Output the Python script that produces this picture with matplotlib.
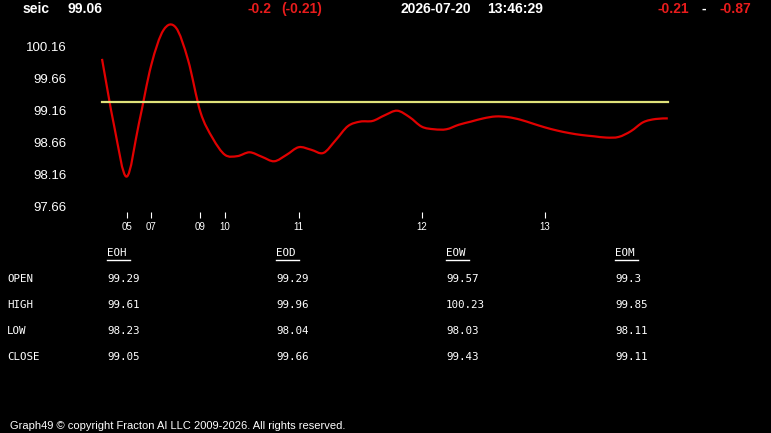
import numpy as np
import matplotlib.pyplot as plt
from matplotlib.path import Path
from matplotlib.patches import PathPatch
from matplotlib.lines import Line2D

# cabecera
symbol = 'seic'
last_price = '99.06'
change_abs = '-0.2'
change_pct = '(-0.21)'
date_str = '2026-07-20'
time_str = '13:46:29'
range_lo = '-0.21'
range_hi = '-0.87'

# serie intradía (un punto por intervalo)
prices = [99.97, 98.91, 98.13, 98.96, 99.87, 100.42, 100.46, 99.95, 99.14, 98.73,
          98.47, 98.45, 98.51, 98.44, 98.37, 98.47, 98.59, 98.55, 98.50, 98.70,
          98.92, 98.99, 99.00, 99.09, 99.16, 99.06, 98.91, 98.87, 98.87, 98.94,
          98.99, 99.04, 99.07, 99.06, 99.02, 98.96, 98.90, 98.85, 98.81, 98.78,
          98.76, 98.74, 98.75, 98.84, 98.98, 99.03, 99.04]
open_ref = 99.29  # línea de apertura

hour_ticks = [2, 4, 8, 10, 16, 26, 36]
hour_labels = ['05', '07', '09', '10', '11', '12', '13']
y_ticks = [97.66, 98.16, 98.66, 99.16, 99.66, 100.16]

# tabla
periods = ['EOH', 'EOD', 'EOW', 'EOM']
row_names = ['OPEN', 'HIGH', 'LOW', 'CLOSE']
eoh = ['99.29', '99.61', '98.23', '99.05']
eod = ['99.29', '99.96', '98.04', '99.66']
eow = ['99.57', '100.23', '98.03', '99.43']
eom = ['99.3', '99.85', '98.11', '99.11']

W, H = 771, 433
RED = '#e81c1c'
fig = plt.figure(figsize=(W / 100, H / 100), dpi=100, facecolor='black')


def px(x, y):
    return x / W, 1 - y / H


# ejes en píxeles
left, right, top, bottom = 90, 690, 15, 212
ax = fig.add_axes([left / W, 1 - bottom / H, (right - left) / W, (bottom - top) / H])
ax.set_facecolor('black')
for s in ax.spines.values():
    s.set_visible(False)

# escala: 64 px por unidad, 12.3 px por punto
ax.set_ylim(100.16 - (bottom - 46.7) / 64, 100.16 + (46.7 - top) / 64)
ax.set_xlim((left - 102) / 12.3, (right - 102) / 12.3)

# curva suavizada (Catmull-Rom -> Bezier)
xs = np.arange(len(prices), dtype=float)
ys = np.array(prices)
pts = np.column_stack([xs, ys])
verts = [pts[0]]
codes = [Path.MOVETO]
n = len(pts)
for i in range(n - 1):
    p0 = pts[max(i - 1, 0)]
    p1 = pts[i]
    p2 = pts[i + 1]
    p3 = pts[min(i + 2, n - 1)]
    verts += [p1 + (p2 - p0) / 6, p2 - (p3 - p1) / 6, p2]
    codes += [Path.CURVE4] * 3
ax.add_patch(PathPatch(Path(verts, codes), facecolor='none', edgecolor='#e00000', lw=1.6))

ax.plot([xs[0], xs[-1]], [open_ref, open_ref], color='#dfe27a', lw=1.6)

ax.set_yticks(y_ticks)
ax.set_yticklabels([f'{v:.2f}' for v in y_ticks])
ax.tick_params(axis='y', length=0, pad=17, labelcolor='white', labelsize=9.5)
ax.set_xticks(hour_ticks)
ax.set_xticklabels(hour_labels)
ax.tick_params(axis='x', length=4.3, width=0.8, color='white', pad=3,
               labelcolor='white', labelsize=7)
for lab in ax.get_yticklabels() + ax.get_xticklabels():
    lab.set_family('Liberation Sans')

# cabecera
hdr = dict(fontsize=10, fontweight='bold', family='Liberation Sans', va='center', ha='left')
fig.text(*px(23, 9), symbol, color='white', **hdr)
fig.text(*px(67, 9), last_price, color='white', **hdr)
fig.text(*px(247, 9), change_abs, color=RED, **hdr)
fig.text(*px(281, 9), change_pct, color=RED, **hdr)
fig.text(*px(400, 9), date_str, color='white', **hdr)
fig.text(*px(487, 9), time_str, color='white', **hdr)
fig.text(*px(657, 9), range_lo, color=RED, **hdr)
fig.text(*px(702, 9), '-', color='white', **hdr)
fig.text(*px(720, 9), range_hi, color=RED, **hdr)

# tabla OHLC
mono = dict(fontsize=7.8, family='DejaVu Sans Mono', color='white', va='center', ha='left')
col_x = [107, 276, 446, 615]
row_y = [279, 305, 331, 357]
columns = [eoh, eod, eow, eom]
for cx, name, vals in zip(col_x, periods, columns):
    fig.text(*px(cx, 253), name, **mono)
    fig.add_artist(Line2D([cx / W, (cx + 23) / W], [1 - 260 / H, 1 - 260 / H],
                          color='white', lw=1, transform=fig.transFigure))
    for ry, v in zip(row_y, vals):
        fig.text(*px(cx, ry), v, **mono)
for ry, name in zip(row_y, row_names):
    fig.text(*px(7, ry), name, **mono)

fig.text(*px(10, 426), 'Graph49 © copyright Fracton AI LLC 2009-2026. All rights reserved.',
         color='white', fontsize=8, family='Liberation Sans', va='center', ha='left')

fig.savefig('out.png', dpi=100, facecolor='black')
